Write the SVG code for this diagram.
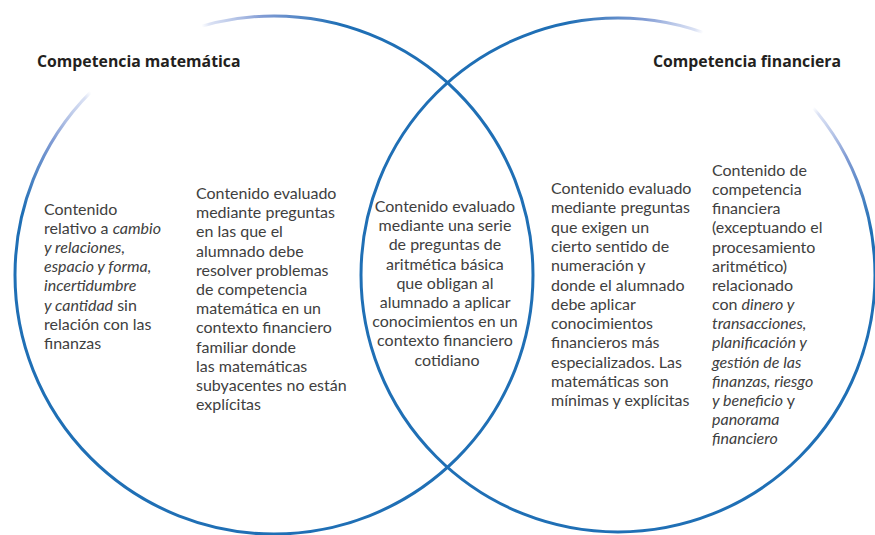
<svg xmlns="http://www.w3.org/2000/svg" width="875" height="535" viewBox="0 0 875 535">
<defs>
<radialGradient id="gL" gradientUnits="userSpaceOnUse" cx="142" cy="52" r="210">
<stop offset="0.31" stop-color="#b3c0e8" stop-opacity="0"/>
<stop offset="0.35" stop-color="#aebde6" stop-opacity="0.45"/>
<stop offset="0.6" stop-color="#7290cf" stop-opacity="0.9"/>
<stop offset="0.95" stop-color="#1f6fb5" stop-opacity="1"/>
</radialGradient>
<radialGradient id="gR" gradientUnits="userSpaceOnUse" cx="763" cy="63" r="210">
<stop offset="0.32" stop-color="#b3c0e8" stop-opacity="0"/>
<stop offset="0.36" stop-color="#aebde6" stop-opacity="0.45"/>
<stop offset="0.6" stop-color="#7290cf" stop-opacity="0.9"/>
<stop offset="0.95" stop-color="#1f6fb5" stop-opacity="1"/>
</radialGradient>
</defs>
<style>
.ring{fill:none;stroke-width:3}
.title{font-family:"Open Sans","Liberation Sans",sans-serif;font-weight:bold;font-size:15.8px;fill:#231f20}
.body{font-family:Lato,"Liberation Sans",sans-serif;font-size:16px;fill:#404040}
.it{font-style:italic}
.c{text-anchor:middle}
</style>
<rect width="875" height="535" fill="#ffffff"/>
<g id="connectors">
<circle id="ringL" class="ring" cx="274" cy="275" r="259" stroke="url(#gL)"/>
<circle id="ringR" class="ring" cx="618" cy="275" r="257" stroke="url(#gR)"/>
</g>
<g id="title-mat">
<text class="title" x="37" y="67">Competencia matemática</text>
</g>
<g id="title-fin">
<text class="title" x="653" y="67">Competencia financiera</text>
</g>
<g id="node-mat-only">
<text class="body">
<tspan x="44" y="215">Contenido</tspan>
<tspan x="44" y="234.1">relativo a <tspan class="it">cambio</tspan></tspan>
<tspan x="44" y="253.2" class="it">y relaciones,</tspan>
<tspan x="44" y="272.3" class="it">espacio y forma,</tspan>
<tspan x="44" y="291.4" class="it">incertidumbre</tspan>
<tspan x="44" y="310.5"><tspan class="it">y cantidad</tspan> sin</tspan>
<tspan x="44" y="329.6">relación con las</tspan>
<tspan x="44" y="348.7">finanzas</tspan>
</text>
</g>
<g id="node-mat-context">
<text class="body">
<tspan x="196" y="199">Contenido evaluado</tspan>
<tspan x="196" y="218.2">mediante preguntas</tspan>
<tspan x="196" y="237.4">en las que el</tspan>
<tspan x="196" y="256.6">alumnado debe</tspan>
<tspan x="196" y="275.8">resolver problemas</tspan>
<tspan x="196" y="295">de competencia</tspan>
<tspan x="196" y="314.2">matemática en un</tspan>
<tspan x="196" y="333.4">contexto financiero</tspan>
<tspan x="196" y="352.6">familiar donde</tspan>
<tspan x="196" y="371.8">las matemáticas</tspan>
<tspan x="196" y="391">subyacentes no están</tspan>
<tspan x="196" y="410.2">explícitas</tspan>
</text>
</g>
<g id="node-intersection">
<text class="body c">
<tspan x="447" y="212">Contenido evaluado</tspan>
<tspan x="447" y="231.2">mediante una serie</tspan>
<tspan x="447" y="250.4">de preguntas de</tspan>
<tspan x="447" y="269.6">aritmética básica</tspan>
<tspan x="447" y="288.8">que obligan al</tspan>
<tspan x="447" y="308">alumnado a aplicar</tspan>
<tspan x="447" y="327.2">conocimientos en un</tspan>
<tspan x="447" y="346.4">contexto financiero</tspan>
<tspan x="447" y="365.6">cotidiano</tspan>
</text>
</g>
<g id="node-fin-specialized">
<text class="body">
<tspan x="551" y="194">Contenido evaluado</tspan>
<tspan x="551" y="213.3">mediante preguntas</tspan>
<tspan x="551" y="232.6">que exigen un</tspan>
<tspan x="551" y="251.9">cierto sentido de</tspan>
<tspan x="551" y="271.2">numeración y</tspan>
<tspan x="551" y="290.5">donde el alumnado</tspan>
<tspan x="551" y="309.8">debe aplicar</tspan>
<tspan x="551" y="329.1">conocimientos</tspan>
<tspan x="551" y="348.4">financieros más</tspan>
<tspan x="551" y="367.7">especializados. Las</tspan>
<tspan x="551" y="387">matemáticas son</tspan>
<tspan x="551" y="406.3">mínimas y explícitas</tspan>
</text>
</g>
<g id="node-fin-only">
<text class="body">
<tspan x="712" y="176">Contenido de</tspan>
<tspan x="712" y="195.15">competencia</tspan>
<tspan x="712" y="214.3">financiera</tspan>
<tspan x="712" y="233.45">(exceptuando el</tspan>
<tspan x="712" y="252.6">procesamiento</tspan>
<tspan x="712" y="271.75">aritmético)</tspan>
<tspan x="712" y="290.9">relacionado</tspan>
<tspan x="712" y="310.05">con <tspan class="it">dinero y</tspan></tspan>
<tspan x="712" y="329.2" class="it">transacciones,</tspan>
<tspan x="712" y="348.35" class="it">planificación y</tspan>
<tspan x="712" y="367.5" class="it">gestión de las</tspan>
<tspan x="712" y="386.65" class="it">finanzas, riesgo</tspan>
<tspan x="712" y="405.8"><tspan class="it">y beneficio</tspan> y</tspan>
<tspan x="712" y="424.95" class="it">panorama</tspan>
<tspan x="712" y="444.1" class="it">financiero</tspan>
</text>
</g>
</svg>
